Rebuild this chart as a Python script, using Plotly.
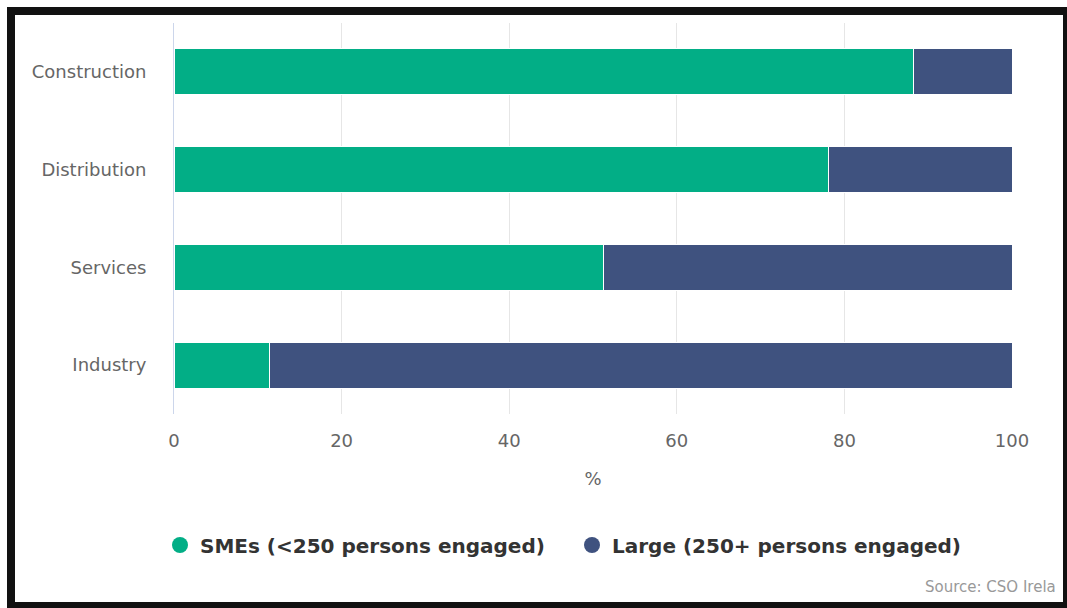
import plotly.graph_objects as go

categories = ["Construction", "Distribution", "Services", "Industry"]
sme_values = [88.2, 78.1, 51.2, 11.4]
large_values = [11.8, 21.9, 48.8, 88.6]
series_names = ["SMEs (<250 persons engaged)", "Large (250+ persons engaged)"]
x_ticks = [0, 20, 40, 60, 80, 100]
source_text = "Source: CSO Irela"

GREEN = "#02ae86"
NAVY = "#3f527f"
FONT = "DejaVu Sans"

W, H = 1067, 608
ML, MR, MT, MB = 174, 55, 23, 194
PW, PH = W - ML - MR, H - MT - MB


def px(x):
    return (x - ML) / PW


def py(y):
    return (H - MB - y) / PH


fig = go.Figure()
for vals, name, col in [(sme_values, series_names[0], GREEN), (large_values, series_names[1], NAVY)]:
    fig.add_trace(go.Bar(
        y=categories, x=vals, orientation="h", name=name,
        marker=dict(color=col, line=dict(color="white", width=1)),
        showlegend=False,
    ))
for name, col in zip(series_names, [GREEN, NAVY]):
    fig.add_trace(go.Scatter(
        x=[None], y=[None], mode="markers", name=name,
        marker=dict(color=col, size=20, symbol="circle"),
    ))

shapes = []
black = dict(type="rect", xref="paper", yref="paper", fillcolor="#111111",
             line=dict(width=0), layer="above")
for (x0, y0, x1, y1) in [(7, 7, 15, 608), (7, 7, 1067, 15), (1063, 7, 1067, 608), (7, 602, 1067, 608)]:
    s = dict(black)
    s.update(x0=px(x0), x1=px(x1), y0=py(y1), y1=py(y0))
    shapes.append(s)

fig.update_layout(
    width=W, height=H,
    margin=dict(l=ML, r=MR, t=MT, b=MB, pad=0),
    paper_bgcolor="white", plot_bgcolor="white",
    barmode="stack", bargap=0.53,
    font=dict(family=FONT, color="#666666", size=18),
    xaxis=dict(
        range=[0, 100], tickvals=x_ticks, showgrid=True, gridcolor="#e6e6e6", gridwidth=1,
        zeroline=False, showline=False, ticks="", ticklabelstandoff=14,
        tickfont=dict(size=18, color="#666666"),
        title=dict(text="%", font=dict(size=18, color="#666666"), standoff=22),
        fixedrange=True,
    ),
    yaxis=dict(
        categoryorder="array", categoryarray=categories, autorange="reversed",
        showgrid=False, zeroline=False, showline=True, linecolor="#ccd6eb", linewidth=1,
        ticks="", ticklabelstandoff=23, tickfont=dict(size=18, color="#666666"),
    ),
    legend=dict(
        orientation="h", x=px(160), xanchor="left", y=py(545), yanchor="middle",
        traceorder="normal", entrywidth=367,
        font=dict(size=20, color="#333333", family=FONT, weight="bold"),
        itemsizing="trace", itemwidth=30, bgcolor="rgba(0,0,0,0)",
    ),
    annotations=[dict(
        text=source_text, xref="paper", yref="paper", x=px(923), y=py(587),
        xanchor="left", yanchor="middle", showarrow=False,
        font=dict(size=15, color="#999999", family=FONT),
    )],
    shapes=shapes,
)

fig.write_html("out.html")
